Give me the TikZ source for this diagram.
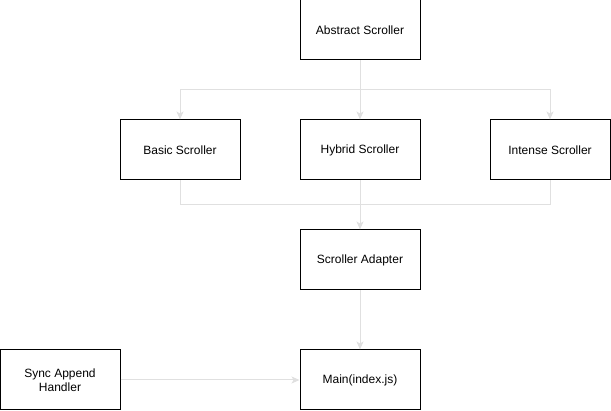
\documentclass[tikz,border=0pt]{standalone}
\usepackage{fontspec}
\setmainfont{Liberation Sans}
\usetikzlibrary{arrows.meta}

\definecolor{linkgray}{HTML}{E0E0E0}
\tikzset{
  block/.style={draw=black, line width=1pt, minimum width=120pt, minimum height=60pt,
    align=center, inner sep=2pt, font=\fontsize{12}{14}\selectfont},
  link/.style={draw=linkgray, line width=1pt},
  linkarrow/.style={link, -{Stealth[length=8pt,width=7pt,inset=2pt]}}
}

\begin{document}
\begin{tikzpicture}[x=1pt,y=-1pt]
        \useasboundingbox (0,0) rectangle (611,411);

        % Draw the scroller classes
        \node[block] (abstract) at (360, 30) {Abstract Scroller};
        \node[block] (basic) at (180, 150) {Basic Scroller};
        \node[block] (hybrid) at (360, 150) {Hybrid Scroller};
        \node[block] (intense) at (550, 150) {Intense Scroller};

        % Draw the adapter and the entry point
        \node[block] (adapter) at (360, 260) {Scroller Adapter};
        \node[block] (main) at (360, 380) {Main(index.js)};
        \node[block] (sync) at (60, 380) {Sync Append\\Handler};

        % Split and merge points of the connectors
        \coordinate (split) at (360, 90);
        \coordinate (merge) at (360, 205);

        % Abstract Scroller to the three scrollers
        \draw[link] (abstract.south) -- (split);
        \draw[linkarrow] (split) -| (basic.north);
        \draw[linkarrow] (split) -- (hybrid.north);
        \draw[linkarrow] (split) -| (intense.north);

        % The three scrollers to the adapter
        \draw[link] (basic.south) |- (merge);
        \draw[link] (intense.south) |- (merge);
        \draw[linkarrow] (hybrid.south) -- (adapter.north);

        % Adapter and handler to Main
        \draw[linkarrow] (adapter.south) -- (main.north);
        \draw[linkarrow] (sync.east) -- (main.west);
    \end{tikzpicture}
\end{document}
